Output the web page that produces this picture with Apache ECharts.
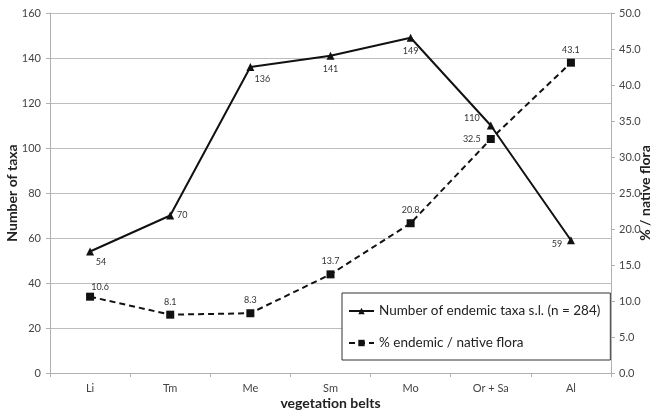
<!DOCTYPE html>
<html>
<head>
<meta charset="utf-8">
<script src="https://cdn.jsdelivr.net/npm/echarts@6/dist/echarts.min.js"></script>
<style>
html,body{margin:0;padding:0;background:#fff;}
#c{width:659px;height:414px;}
</style>
</head>
<body>
<div id="c"></div>
<script>
var categories = ['Li', 'Tm', 'Me', 'Sm', 'Mo', 'Or + Sa', 'Al'];
var taxaCount = [54, 70, 136, 141, 149, 110, 59];
var endemicPct = [10.6, 8.1, 8.3, 13.7, 20.8, 32.5, 43.1];
var leftTicks = { min: 0, max: 160, interval: 20 };
var rightTicks = { min: 0, max: 50, interval: 5 };

var taxaLabelPos = [[11, 11], [12, 0], [12, 12], [0, 13], [0, 13], [-19, -7], [-14, 4]];
var pctLabelPos = [[10, -10], [0, -13], [0, -13], [0, -13], [0, -13], [-19, 0], [0, -13]];

var FONT = 'Lato, "Open Sans", sans-serif';

function mkData(vals, offs) {
  return vals.map(function (v, i) {
    return { value: v, label: { offset: offs[i] } };
  });
}

var chart = echarts.init(document.getElementById('c'));
chart.setOption({
  animation: false,
  textStyle: { fontFamily: FONT },
  grid: { left: 50, right: 48, top: 13, bottom: 41, containLabel: false, outerBoundsMode: 'none' },
  legend: {
    orient: 'vertical',
    left: 342,
    top: 293,
    width: 265,
    height: 73,
    padding: [11, 10, 10, 6],
    itemGap: 18,
    itemWidth: 25,
    itemHeight: 8,
    borderColor: '#333',
    borderWidth: 1,
    backgroundColor: '#fff',
    textStyle: { fontSize: 13.5, color: '#222', fontFamily: FONT },
    data: ['Number of endemic taxa s.l. (n = 284)', '% endemic / native flora']
  },
  xAxis: {
    type: 'category',
    data: categories,
    boundaryGap: true,
    name: 'vegetation belts',
    nameLocation: 'middle',
    nameGap: 23,
    nameMoveOverlap: false,
    nameTextStyle: { fontSize: 14, fontWeight: 'bold', color: '#222', fontFamily: FONT },
    axisLine: { lineStyle: { color: '#b0b0b0', width: 1 } },
    axisTick: { show: true, alignWithLabel: false, length: 4, lineStyle: { color: '#b0b0b0' } },
    axisLabel: { fontSize: 11, color: '#444', margin: 10 },
    splitLine: { show: false }
  },
  yAxis: [
    {
      type: 'value',
      min: leftTicks.min, max: leftTicks.max, interval: leftTicks.interval,
      name: 'Number of taxa',
      nameLocation: 'middle',
      nameGap: 31,
      nameMoveOverlap: false,
      nameTextStyle: { fontSize: 14, fontWeight: 'bold', color: '#222', fontFamily: FONT },
      axisLine: { show: true, lineStyle: { color: '#b0b0b0' } },
      axisTick: { show: true, length: 4, lineStyle: { color: '#b0b0b0' } },
      axisLabel: { fontSize: 11, color: '#444', margin: 9 },
      splitLine: { show: true, lineStyle: { color: '#bdbdbd', width: 1 } }
    },
    {
      type: 'value',
      min: rightTicks.min, max: rightTicks.max, interval: rightTicks.interval,
      position: 'right',
      name: '% / native flora',
      nameLocation: 'middle',
      nameGap: 27,
      nameRotate: 90,
      nameMoveOverlap: false,
      nameTextStyle: { fontSize: 14, fontWeight: 'bold', color: '#222', fontFamily: FONT },
      axisLine: { show: true, lineStyle: { color: '#b0b0b0' } },
      axisTick: { show: true, length: 4, lineStyle: { color: '#b0b0b0' } },
      axisLabel: { fontSize: 11, color: '#444', margin: 8, formatter: function (v) { return v.toFixed(1); } },
      splitLine: { show: false }
    }
  ],
  series: [
    {
      name: 'Number of endemic taxa s.l. (n = 284)',
      type: 'line',
      yAxisIndex: 0,
      data: mkData(taxaCount, taxaLabelPos),
      symbol: 'triangle',
      symbolSize: 8,
      lineStyle: { color: '#111', width: 2 },
      itemStyle: { color: '#111' },
      label: { show: true, position: 'inside', fontSize: 9, color: '#333' },
      z: 3
    },
    {
      name: '% endemic / native flora',
      type: 'line',
      yAxisIndex: 1,
      data: mkData(endemicPct, pctLabelPos),
      symbol: 'rect',
      symbolSize: 8,
      lineStyle: { color: '#111', width: 2, type: [6, 4] },
      itemStyle: { color: '#111' },
      label: { show: true, position: 'inside', fontSize: 9, color: '#333',
        formatter: function (p) { return p.value.toFixed(1); } },
      z: 2
    }
  ]
});
</script>
</body>
</html>
